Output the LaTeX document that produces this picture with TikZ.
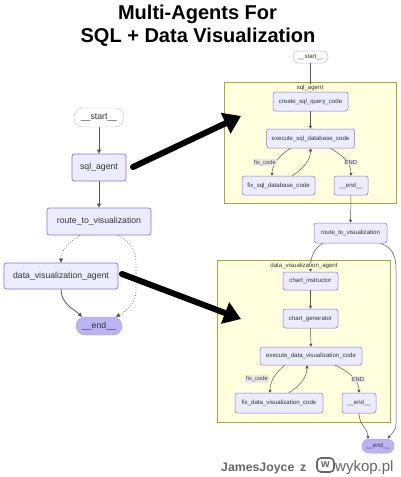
\documentclass[tikz,border=0pt]{standalone}
\usepackage{fontspec}
\setmainfont{Liberation Sans}
\usetikzlibrary{arrows.meta}
\definecolor{nodefill}{HTML}{ECECFF}
\definecolor{nodedraw}{HTML}{9370DB}
\definecolor{clfill}{HTML}{FFFFDE}
\definecolor{cldraw}{HTML}{AAAA33}
\definecolor{endfill}{HTML}{BBB3F6}
\definecolor{edgec}{HTML}{555555}
\definecolor{lblbg}{HTML}{E8E8E8}
\definecolor{wmgray}{HTML}{666666}
\begin{document}
\begin{tikzpicture}[x=1pt,y=-1pt,
  box/.style={draw=nodedraw, fill=nodefill, rounded corners=2.5pt, inner sep=0pt, text=black!80},
  bigbox/.style={box, line width=0.7pt, font=\fontsize{8.7}{10}\selectfont},
  smallbox/.style={box, line width=0.5pt, font=\fontsize{6.1}{7}\selectfont},
  pill/.style={draw=nodedraw!55, fill=white, inner sep=0pt, text=black!80},
  endpill/.style={draw=nodedraw!70, fill=endfill, inner sep=0pt, text=black!80},
  cluster/.style={draw=cldraw, fill=clfill, line width=0.5pt, inner sep=0pt},
  cllabel/.style={font=\fontsize{6.1}{7}\selectfont, text=black!80, inner sep=0.5pt},
  elabel/.style={fill=lblbg, font=\fontsize{5.8}{7}\selectfont, text=black!75, inner sep=1pt},
  edgel/.style={draw=edgec, line width=0.8pt, -{Triangle[length=4pt,width=4pt]}},
  dotl/.style={edgel, dotted, line width=0.6pt},
  edges/.style={draw=edgec, line width=0.5pt, -{Triangle[length=3pt,width=3pt]}},
  bigarrow/.style={draw=black, line width=6pt, line cap=round, -{Triangle[length=17pt,width=22pt]}},
  titlefont/.style={font=\fontsize{20}{22}\selectfont\bfseries, inner sep=0pt, anchor=base}
]
\useasboundingbox (0,0) rectangle (400,477);
\fill[white] (0,0) rectangle (400,477);

% title
\node[titlefont] (t1) at (197.5,19.5) {Multi-Agents For};
\node[titlefont] (t2) at (198,42.5) {SQL + Data Visualization};

% ---------- left graph ----------
\node[pill, rounded corners=9pt, minimum width=50pt, minimum height=19pt, font=\fontsize{8.7}{10}\selectfont] (st1) at (99,117.5) {\_\_start\_\_};
\node[bigbox, minimum width=54pt, minimum height=27pt] (sqla) at (99,167.5) {sql\_agent};
\node[bigbox, minimum width=104pt, minimum height=27pt] (rt1) at (99,221.5) {route\_to\_visualization};
\node[bigbox, minimum width=114pt, minimum height=26pt] (dva) at (61,276) {data\_visualization\_agent};
\node[endpill, rounded corners=9pt, minimum width=46pt, minimum height=18pt, font=\fontsize{8.7}{10}\selectfont] (en1) at (99,326) {\_\_end\_\_};

\draw[edgel] (st1) -- (sqla);
\draw[edgel] (sqla) -- (rt1);
\draw[dotl] ([xshift=-19pt]rt1.south) .. controls (68,243) and (61,250) .. (dva.north);
\draw[dotl] ([xshift=19pt]rt1.south) .. controls (133,243) and (136,252) .. (136,265) -- (136,290) .. controls (136,304) and (126,311) .. ([xshift=17pt]en1.north);
\draw[edgel] (dva.south) .. controls (61,304) and (74,309) .. ([xshift=-17pt]en1.north);

% ---------- big arrows ----------
\coordinate (a1s) at (133,167);
\coordinate (a1e) at (241,116);
\coordinate (a2s) at (122,274);
\coordinate (a2e) at (241,319);

% ---------- right graph ----------
\node[cluster, minimum width=172pt, minimum height=121pt] (c1) at (310,142.5) {};
\node[cluster, minimum width=173pt, minimum height=162pt] (c2) at (303.5,341) {};

\node[pill, rounded corners=6pt, minimum width=35pt, minimum height=12pt, font=\fontsize{6.1}{7}\selectfont, line width=0.5pt] (st2) at (310.5,57) {\_\_start\_\_};
\node[smallbox, minimum width=75pt, minimum height=19pt] (csq) at (310.5,101.5) {create\_sql\_query\_code};
\node[smallbox, minimum width=88pt, minimum height=19pt] (esq) at (310.5,138.5) {execute\_sql\_database\_code};
\node[smallbox, minimum width=73pt, minimum height=19pt] (fsq) at (278.5,185.5) {fix\_sql\_database\_code};
\node[smallbox, minimum width=34pt, minimum height=19pt] (en2) at (351,185.5) {\_\_end\_\_};
\node[smallbox, minimum width=73pt, minimum height=20pt] (rt2) at (350.5,233) {route\_to\_visualization};

\node[smallbox, minimum width=55pt, minimum height=18pt] (ci) at (310.5,281) {chart\_instructor};
\node[smallbox, minimum width=55pt, minimum height=19pt] (cg) at (310.5,318.5) {chart\_generator};
\node[smallbox, minimum width=102pt, minimum height=18pt] (edv) at (311,356) {execute\_data\_visualization\_code};
\node[smallbox, minimum width=88pt, minimum height=20pt] (fdv) at (279,403) {fix\_data\_visualization\_code};
\node[smallbox, minimum width=34pt, minimum height=20pt] (en3) at (359,403) {\_\_end\_\_};
\node[endpill, rounded corners=7pt, minimum width=32pt, minimum height=14pt, font=\fontsize{6.1}{7}\selectfont, line width=0.5pt] (en4) at (378,446) {\_\_end\_\_};

% edges in sql cluster
\draw[edges] (st2) -- (csq);
\node[cllabel, fill=clfill] (c1l) at (310,87.5) {sql\_agent};
\draw[edges] (csq) -- (esq);
\draw[edges] ([xshift=-20pt]esq.south) .. controls (278,156) and (272,166) .. ([xshift=-6.5pt]fsq.north);
\draw[edges] ([xshift=14pt]fsq.north) .. controls (304,168) and (310.5,160) .. (esq.south);
\draw[edges] ([xshift=20pt]esq.south) .. controls (344,156) and (351,164) .. (en2.north);
\node[elabel] (lb1) at (265,162.5) {fix\_code};
\node[elabel] (lb2) at (351,162.5) {END};
\draw[edges] (en2) -- (rt2);

% edges from route
\draw[edges] ([xshift=-28pt]rt2.south) .. controls (313,250) and (310.5,257) .. (ci.north);
\draw[edges] ([xshift=30pt]rt2.south) .. controls (393,248) and (396,256) .. (396,270) -- (396,424) .. controls (396,432) and (390,435) .. ([xshift=10pt]en4.north);
\node[cllabel, fill=clfill] (c2l) at (304,266) {data\_visualization\_agent};

% edges in viz cluster
\draw[edges] (ci) -- (cg);
\draw[edges] (cg) -- (edv);
\draw[edges] ([xshift=-26pt]edv.south) .. controls (276,372) and (270,381) .. ([xshift=-9pt]fdv.north);
\draw[edges] ([xshift=10pt]fdv.north) .. controls (300,386) and (307,377) .. ([xshift=-4pt]edv.south);
\draw[edges] ([xshift=24pt]edv.south) .. controls (350,372) and (359,381) .. (en3.north);
\node[elabel] (lb3) at (257,379) {fix\_code};
\node[elabel] (lb4) at (358,379) {END};
\draw[edges] (en3.south) .. controls (359,425) and (368,429) .. ([xshift=-10pt]en4.north);

% big arrows on top
\draw[bigarrow] (a1s) -- (a1e);
\draw[bigarrow] (a2s) -- (a2e);

% watermark
\node[anchor=base west, inner sep=0pt, text=wmgray, font=\fontsize{12.3}{14}\selectfont\bfseries] (wm1) at (221,471.5) {JamesJoyce};
\node[anchor=base west, inner sep=0pt, text=wmgray, font=\fontsize{12.3}{14}\selectfont\bfseries] (wm2) at (300,471.5) {z};
\node[draw=wmgray, line width=1.6pt, rounded corners=4pt, minimum width=17pt, minimum height=14pt, inner sep=0pt, text=wmgray, font=\fontsize{11}{12}\selectfont\bfseries] (logo) at (325.5,465) {w};
\node[anchor=base west, inner sep=0pt, text=wmgray, font=\fontsize{15}{17}\selectfont] (wm3) at (335,471.5) {wykop.pl};
\end{tikzpicture}
\end{document}
